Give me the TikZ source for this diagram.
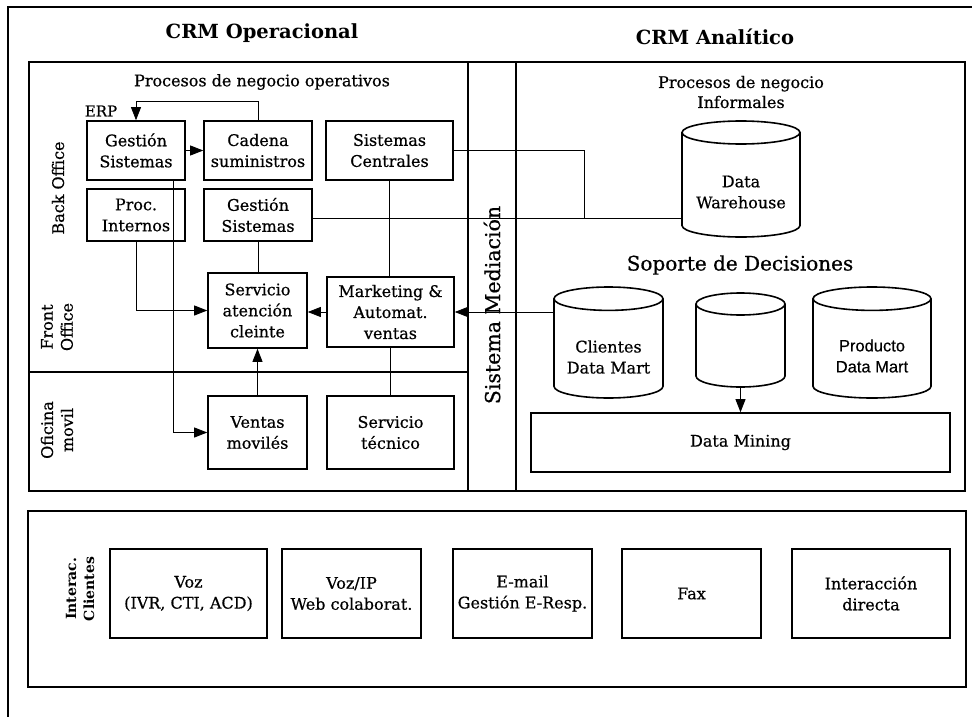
\documentclass[tikz,border=0pt]{standalone}
\usepackage{fontspec}
\setmainfont{DejaVu Serif}[UprightFeatures={FakeBold=0.6}]
\newfontfamily\sansfam{Liberation Sans}[UprightFeatures={FakeBold=0.4}]
\usetikzlibrary{arrows.meta}

\tikzset{
  frameline/.style={line width=1.4pt},
  boxline/.style={line width=1.6pt},
  box/.style={draw, line width=1.6pt, inner sep=0pt, align=center,
    font=\fontsize{16}{21}\selectfont},
  txt/.style={inner sep=0pt, align=center, font=\fontsize{16}{21}\selectfont},
  title/.style={inner sep=0pt, font=\fontsize{19.5}{22}\selectfont\bfseries},
  sidelabel/.style={inner sep=0pt, align=center, rotate=90,
    font=\fontsize{16}{20}\selectfont},
  hold/.style={inner sep=0pt},
  conn/.style={line width=0.8pt},
  arr/.style={conn, -{Triangle[length=13pt,width=10pt]}},
}

% cylinder outline: left, top, right, bottom, vertical radius of the ellipses
\newcommand\dbcylinder[5]{%
  \pgfmathsetmacro\cylcx{(#1+#3)/2}%
  \pgfmathsetmacro\cylrx{(#3-#1)/2}%
  \draw[boxline] (#1,#2+#5) -- (#1,#4-#5)
    .. controls (#1,#4-#5+0.5523*#5) and (\cylcx-0.5523*\cylrx,#4) .. (\cylcx,#4)
    .. controls (\cylcx+0.5523*\cylrx,#4) and (#3,#4-#5+0.5523*#5) .. (#3,#4-#5)
    -- (#3,#2+#5);
  \draw[boxline] (\cylcx,#2+#5) ellipse [x radius=\cylrx, y radius=#5];
}

\begin{document}
\begin{tikzpicture}[x=1pt,y=-1pt]
\useasboundingbox (0,0) rectangle (972,717);

% outer frame
\draw[line width=2pt] (8,717) -- (8,7) -- (972,7);

% titles
\node[title] (t1) at (262,33) {CRM Operacional};
\node[title] (t2) at (715,37) {CRM Analítico};

% main panel and its divisions
\draw[frameline] (29,62) rectangle (965,491);
\draw[frameline] (468,62) -- (468,491);
\draw[frameline] (516,62) -- (516,491);
\draw[frameline] (29,372) -- (468,372);

\node[txt] (pno) at (262,82) {Procesos de negocio operativos};
\node[txt, font=\fontsize{16}{20}\selectfont] (pni) at (741,92) {Procesos de negocio\\Informales};

\node[sidelabel] (lbo) at (58,188) {Back Office};
\node[sidelabel] (lfo) at (57,327) {Front\\Office};
\node[sidelabel] (lom) at (57,430) {Oficina\\movil};
\node[sidelabel, font=\fontsize{20.5}{24}\selectfont] (smed) at (492,305) {Sistema Mediación};

% operational boxes
\node[box, minimum width=98pt, minimum height=59pt] (gs1) at (136,150.5) {Gestión\\Sistemas};
\node[box, minimum width=108pt, minimum height=59pt] (cad) at (258,150.5) {Cadena\\suministros};
\node[box, minimum width=127pt, minimum height=59pt] (sc) at (389.5,150.5) {Sistemas\\Centrales};
\node[box, minimum width=98pt, minimum height=52pt] (pi) at (136,215) {Proc.\\Internos};
\node[box, minimum width=108pt, minimum height=52pt] (gs2) at (258,215) {Gestión\\Sistemas};
\node[box, minimum width=99pt, minimum height=75pt] (sac) at (257.5,310.5) {Servicio\\atención\\cleinte};
\node[box, minimum width=127pt, minimum height=70pt] (mkt) at (390.5,312) {Marketing \&\\Automat.\\ventas};
\node[box, minimum width=99pt, minimum height=73pt] (vm) at (257.5,432.5) {Ventas\\movilés};
\node[box, minimum width=127pt, minimum height=73pt] (st) at (390.5,432.5) {Servicio\\técnico};

\node[txt, font=\fontsize{15}{18}\selectfont] (erp) at (101,111) {ERP};

% analytical side
\dbcylinder{682}{121}{800}{237}{11.5}
\node[hold, minimum width=118pt, minimum height=116pt] (dw) at (741,179) {};
\node[txt] (dwt) at (741,192) {Data\\Warehouse};

\node[txt, font=\fontsize{20}{24}\selectfont] (sdd) at (740,265) {Soporte de Decisiones};

\dbcylinder{554}{287}{663}{398}{11.7}
\node[hold, minimum width=109pt, minimum height=111pt] (cdm) at (608.5,342.5) {};
\node[txt] (cdmt) at (608.5,357) {Clientes\\Data Mart};

\dbcylinder{696}{293}{785}{387}{11}
\node[hold, minimum width=89pt, minimum height=94pt] (mid) at (740.5,340) {};

\dbcylinder{813}{287}{931}{398}{11.7}
\node[hold, minimum width=118pt, minimum height=111pt] (pdm) at (872,342.5) {};
\node[txt, font=\fontsize{16.5}{21}\sansfam] (pdmt) at (872,356) {Producto\\Data Mart};

\node[box, minimum width=419pt, minimum height=59pt] (dmin) at (740.5,442.5) {Data Mining};

% connectors
\coordinate (j) at (584,218);
\draw[arr] (cad.north) -- ++(0,-19) -| (gs1.north);
\draw[arr] (gs1.east) -- (cad.west);
\draw[conn] (sc.east) -| (j);
\draw[conn] (j -| gs2.east) -- (j -| dw.west);
\draw[conn] (gs2.south) -- (gs2.south |- sac.north);
\draw[arr] (pi.south) |- (sac.west);
\draw[arr] ([xshift=37pt]gs1.south) |- (vm.west);
\draw[arr] (vm.north) -- (sac.south);
\draw[arr] (mkt.west) -- (mkt.west -| sac.east);
\draw[conn] (sc.south) -- (sc.south |- mkt.north);
\draw[conn] (mkt.south) -- (st.north);
\draw[arr] (mkt.east -| cdm.west) -- (mkt.east);
\draw[arr] (mid.south) -- (dmin.north);

% customer interaction panel
\draw[frameline] (28,511) rectangle (966,687);
\node[sidelabel, font=\fontsize{14}{18}\selectfont\bfseries] (lic) at (80,589) {Interac.\\Clientes};
\node[box, minimum width=157pt, minimum height=89pt] (ch1) at (188.5,593.5) {Voz\\(IVR, CTI, ACD)};
\node[box, minimum width=139pt, minimum height=89pt] (ch2) at (351.5,593.5) {Voz/IP\\Web colaborat.};
\node[box, minimum width=139pt, minimum height=89pt] (ch3) at (522.5,593.5) {E-mail\\Gestión E-Resp.};
\node[box, minimum width=139pt, minimum height=89pt] (ch4) at (691.5,593.5) {Fax};
\node[box, minimum width=158pt, minimum height=89pt] (ch5) at (871,593.5) {Interacción\\directa};
\end{tikzpicture}
\end{document}
